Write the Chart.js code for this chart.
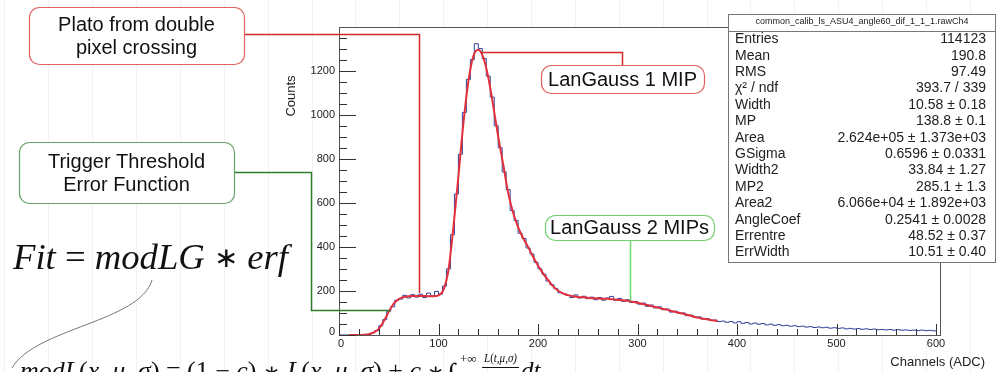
<!DOCTYPE html>
<html>
<head>
<meta charset="utf-8">
<script src="https://cdn.jsdelivr.net/npm/chart.js@4.4.0/dist/chart.umd.min.js"></script>
<style>
html, body { margin: 0; padding: 0; background: #fff; overflow: hidden; }
canvas { display: block; }
</style>
</head>
<body>
<canvas id="chart" width="996" height="372"></canvas>
<script>
// histogram, 4 channel bins (value per bin, first bin starts at channel 0)
var histBinWidth = 4;
var histCounts = [
	0, 0, 0, 0, 0, 0, 1, 3, 10, 20,
	42, 70, 108, 128, 158, 163, 180, 168, 183, 172,
	185, 170, 190, 178, 198, 186, 222, 300, 455, 640,
	820, 1010, 1160, 1250, 1322, 1300, 1255, 1175, 1080, 950,
	850, 740, 660, 565, 520, 462, 438, 395, 368, 330,
	300, 276, 245, 228, 210, 192, 188, 180, 170, 182,
	168, 176, 165, 172, 160, 170, 158, 168, 175, 158,
	166, 153, 160, 148, 152, 140, 145, 130, 136, 123,
	128, 115, 118, 104, 108, 98, 100, 88, 90, 80,
	82, 72, 75, 66, 68, 61, 63, 58, 61, 55,
	60, 53, 57, 50, 54, 49, 52, 46, 49, 44,
	47, 42, 44, 40, 42, 38, 40, 36, 38, 34,
	36, 33, 35, 31, 33, 30, 32, 28, 30, 27,
	29, 26, 28, 25, 27, 24, 25, 23, 25, 22,
	24, 22, 23, 21, 22, 20, 22, 20, 21, 19,
	20
];

// fit curve (modLG * erf), every 5 channels from 10 to 380
var fitStart = 10, fitStep = 5;
var fitValues = [
	0, 0, 0, 1, 4, 12, 28, 62, 105, 142,
	163, 172, 176, 177, 177, 177, 176, 176, 180, 205,
	295, 490, 720, 960, 1150, 1265, 1295, 1260, 1170, 1040,
	900, 775, 645, 555, 490, 440, 400, 355, 315, 280,
	250, 222, 202, 189, 181, 176, 173, 171, 169, 167,
	166, 165, 164, 162, 160, 158, 155, 151, 146, 141,
	136, 130, 125, 119, 114, 108, 103, 98, 92, 85,
	79, 75, 71, 67, 64
];

var xTickLabels = [0, 100, 200, 300, 400, 500, 600];
var yTickLabels = [0, 200, 400, 600, 800, 1000, 1200];

var statsTitle = "common_calib_ls_ASU4_angle60_dif_1_1_1.rawCh4";
var statLabels = ["Entries", "Mean", "RMS", "\u03c7\u00b2 / ndf", "Width", "MP", "Area", "GSigma",
	"Width2", "MP2", "Area2", "AngleCoef", "Errentre", "ErrWidth"];
var statValues = ["114123", "190.8", "97.49", "393.7 / 339", "10.58 \u00b1 0.18", "138.8 \u00b1 0.1",
	"2.624e+05 \u00b1 1.373e+03", "0.6596 \u00b1 0.0331", "33.84 \u00b1 1.27", "285.1 \u00b1 1.3",
	"6.066e+04 \u00b1 1.892e+03", "0.2541 \u00b1 0.0028", "48.52 \u00b1 0.37", "10.51 \u00b1 0.40"];

var histData = histCounts.map(function(v, i) { return {x: i * histBinWidth, y: v}; });
var fitData = fitValues.map(function(v, i) { return {x: fitStart + i * fitStep, y: v}; });

var SANS = "'Liberation Sans', Arial, sans-serif";
var SERIF = "'Liberation Serif', 'Times New Roman', serif";

function roundRect(ctx, x, y, w, h, r) {
	ctx.beginPath();
	ctx.moveTo(x + r, y);
	ctx.arcTo(x + w, y, x + w, y + h, r);
	ctx.arcTo(x + w, y + h, x, y + h, r);
	ctx.arcTo(x, y + h, x, y, r);
	ctx.arcTo(x, y, x + w, y, r);
	ctx.closePath();
}

// draw text pieces with mixed fonts, stretched to a given width
function fitParts(ctx, parts, x, y, width) {
	var total = 0;
	parts.forEach(function(p) { ctx.font = p[1]; total += ctx.measureText(p[0]).width; });
	ctx.save();
	ctx.translate(x, y);
	ctx.scale(width / total, 1);
	var cx = 0;
	parts.forEach(function(p) {
		ctx.font = p[1];
		ctx.fillText(p[0], cx, p[2] || 0);
		cx += ctx.measureText(p[0]).width;
	});
	ctx.restore();
}

function box(ctx, x, y, w, h, stroke, lines, size) {
	ctx.save();
	roundRect(ctx, x + 0.5, y + 0.5, w, h, 10);
	ctx.fillStyle = "#fff";
	ctx.fill();
	ctx.strokeStyle = stroke;
	ctx.lineWidth = 1.2;
	ctx.stroke();
	ctx.fillStyle = "#111";
	ctx.font = size + "px " + SANS;
	ctx.textAlign = "center";
	ctx.textBaseline = "middle";
	var lh = 23;
	var y0 = y + h / 2 - (lines.length - 1) * lh / 2;
	lines.forEach(function(t, i) { ctx.fillText(t, x + w / 2, y0 + i * lh + 1); });
	ctx.restore();
}

function polyline(ctx, pts, color, width) {
	ctx.save();
	ctx.strokeStyle = color;
	ctx.lineWidth = width;
	ctx.beginPath();
	pts.forEach(function(p, i) { if (i) ctx.lineTo(p[0], p[1]); else ctx.moveTo(p[0], p[1]); });
	ctx.stroke();
	ctx.restore();
}

var backdrop = {
	id: "backdrop",
	beforeDraw: function(chart) {
		var ctx = chart.ctx, a = chart.chartArea;
		ctx.save();
		ctx.fillStyle = "#fff";
		ctx.fillRect(0, 0, chart.width, chart.height);
		// faint slide grid behind the plot
		ctx.strokeStyle = "rgba(0,0,0,0.05)";
		ctx.lineWidth = 1;
		for (var gx = 4.2; gx < chart.width; gx += 43.9) {
			ctx.beginPath();
			ctx.moveTo(Math.round(gx) + 0.5, 0);
			ctx.lineTo(Math.round(gx) + 0.5, chart.height);
			ctx.stroke();
		}
		ctx.fillStyle = "#fff";
		ctx.fillRect(a.left, a.top, a.right - a.left, a.bottom - a.top);
		ctx.restore();
	}
};

var decorations = {
	id: "decorations",
	afterDatasetsDraw: function(chart) {
		var ctx = chart.ctx, a = chart.chartArea;
		var xs = chart.scales.x, ys = chart.scales.y;
		ctx.save();

		// frame
		ctx.strokeStyle = "#555";
		ctx.lineWidth = 1;
		ctx.strokeRect(a.left + 0.5, a.top + 0.5, a.right - a.left, a.bottom - a.top);

		// y ticks (inside), minor every 50
		ctx.strokeStyle = "#333";
		for (var v = 0; v <= ys.max; v += 50) {
			var py = Math.round(ys.getPixelForValue(v)) + 0.5;
			var len = (v % 200 === 0) ? 17 : 8;
			ctx.beginPath();
			ctx.moveTo(a.left, py);
			ctx.lineTo(a.left + len, py);
			ctx.stroke();
		}
		// x ticks (inside), minor every 20
		for (var u = 0; u <= 600; u += 20) {
			var px = Math.round(xs.getPixelForValue(u)) + 0.5;
			var l2 = (u % 100 === 0) ? 11 : 6;
			ctx.beginPath();
			ctx.moveTo(px, a.bottom);
			ctx.lineTo(px, a.bottom - l2);
			ctx.stroke();
		}

		ctx.fillStyle = "#222";
		ctx.font = "11px " + SANS;
		ctx.textAlign = "right";
		ctx.textBaseline = "middle";
		yTickLabels.forEach(function(t) {
			var yy = ys.getPixelForValue(t);
			ctx.fillText(String(t), a.left - 4, t === 0 ? yy - 3 : yy);
		});
		ctx.textAlign = "center";
		ctx.textBaseline = "top";
		xTickLabels.forEach(function(t) {
			ctx.fillText(String(t), xs.getPixelForValue(t) + (t === 0 ? 2 : 0), a.bottom + 3);
		});

		// axis titles
		ctx.font = "13px " + SANS;
		ctx.textAlign = "right";
		ctx.textBaseline = "middle";
		ctx.fillText("Channels (ADC)", 985, 362);
		ctx.save();
		ctx.translate(291, 96);
		ctx.rotate(-Math.PI / 2);
		ctx.textAlign = "center";
		ctx.fillText("Counts", 0, 0);
		ctx.restore();

		// stats box
		var sx = 728, sy = 14, sw = 267, sh = 248;
		ctx.fillStyle = "#fff";
		ctx.fillRect(sx, sy, sw, sh);
		ctx.strokeStyle = "#777";
		ctx.strokeRect(sx + 0.5, sy + 0.5, sw, sh);
		ctx.beginPath();
		ctx.moveTo(sx, 31.5);
		ctx.lineTo(sx + sw, 31.5);
		ctx.stroke();
		ctx.fillStyle = "#222";
		ctx.font = "9px " + SANS;
		ctx.textAlign = "center";
		ctx.fillText(statsTitle, sx + 134, 22);
		ctx.font = "14px " + SANS;
		statLabels.forEach(function(t, i) {
			var ry = 39.5 + i * 16.38;
			ctx.textAlign = "left";
			ctx.fillText(t, 735, ry);
			ctx.textAlign = "right";
			ctx.fillText(statValues[i], 986, ry);
		});

		// annotation connectors
		polyline(ctx, [[244, 34.5], [419.5, 34.5], [419.5, 293]], "#d42a2a", 1.5);
		polyline(ctx, [[234, 172.5], [311.5, 172.5], [311.5, 310.5], [390, 310.5]], "#2f7d2f", 1.5);
		polyline(ctx, [[622.5, 65], [622.5, 52.5], [481, 52.5]], "#d42a2a", 1.5);
		polyline(ctx, [[630.5, 240], [630.5, 301]], "#6bdc6b", 1.5);

		// annotation boxes
		box(ctx, 29, 7, 215, 57, "#e06060", ["Plato from double", "pixel crossing"], 20);
		box(ctx, 19, 142, 215, 61, "#6aa06a", ["Trigger Threshold", "Error Function"], 20);
		box(ctx, 541, 65, 163, 28, "#e06060", ["LanGauss 1 MIP"], 20);
		box(ctx, 545, 215, 169, 25, "#70d070", ["LanGauss 2 MIPs"], 20);

		// formulas
		ctx.fillStyle = "#111";
		ctx.textAlign = "left";
		ctx.textBaseline = "alphabetic";
		var it = "italic 35px " + SERIF, up = "35px " + SERIF, ast = "28px " + SERIF;
		fitParts(ctx, [["Fit", it], [" = ", up], ["modLG", it], [" ", up], ["\u2217", ast, -2], [" ", up], ["erf", it]], 13, 269, 275);

		ctx.strokeStyle = "#777";
		ctx.lineWidth = 1;
		ctx.beginPath();
		ctx.moveTo(152, 280);
		ctx.bezierCurveTo(140, 322, 35, 328, 12, 368);
		ctx.stroke();

		var it2 = "italic 25px " + SERIF, up2 = "25px " + SERIF, ast2 = "20px " + SERIF;
		fitParts(ctx, [["modL", it2], ["(", up2], ["x", it2], [", ", up2], ["\u03bc", it2], [", ", up2], ["\u03c3", it2],
			[") = (1 \u2212 ", up2], ["c", it2], [") ", up2], ["\u2217", ast2], [" ", up2], ["L", it2], ["(", up2], ["x", it2], [", ", up2],
			["\u03bc", it2], [", ", up2], ["\u03c3", it2], [") + ", up2], ["c", it2], [" ", up2], ["\u2217", ast2]], 20, 379, 425);
		ctx.font = "30px " + SERIF;
		ctx.fillText("\u222b", 447, 384);
		ctx.font = "13px " + SERIF;
		ctx.fillText("+\u221e", 460, 363);
		fitParts(ctx, [["L", "italic 13px " + SERIF], ["(", "13px " + SERIF], ["t", "italic 13px " + SERIF],
			[",\u03bc,\u03c3)", "italic 13px " + SERIF]], 484, 362, 33);
		ctx.fillRect(482, 367, 37, 1);
		ctx.font = "italic 25px " + SERIF;
		ctx.fillText("dt", 521, 379);

		ctx.restore();
	}
};

new Chart(document.getElementById("chart"), {
	type: "line",
	data: {
		datasets: [{
			label: "fit",
			data: fitData,
			borderColor: "#e3303a",
			borderWidth: 2,
			pointRadius: 0,
			cubicInterpolationMode: "monotone",
			fill: false
		}, {
			label: "hist",
			data: histData,
			borderColor: "#34409a",
			borderWidth: 1,
			pointRadius: 0,
			stepped: "before",
			fill: false
		}]
	},
	options: {
		responsive: false,
		animation: false,
		devicePixelRatio: 1,
		layout: {padding: {left: 339, top: 27, right: 56, bottom: 37}},
		plugins: {legend: {display: false}, tooltip: {enabled: false}},
		scales: {
			x: {type: "linear", min: 0, max: 604, display: false},
			y: {type: "linear", min: 0, max: 1398, display: false}
		}
	},
	plugins: [backdrop, decorations]
});
</script>
</body>
</html>
